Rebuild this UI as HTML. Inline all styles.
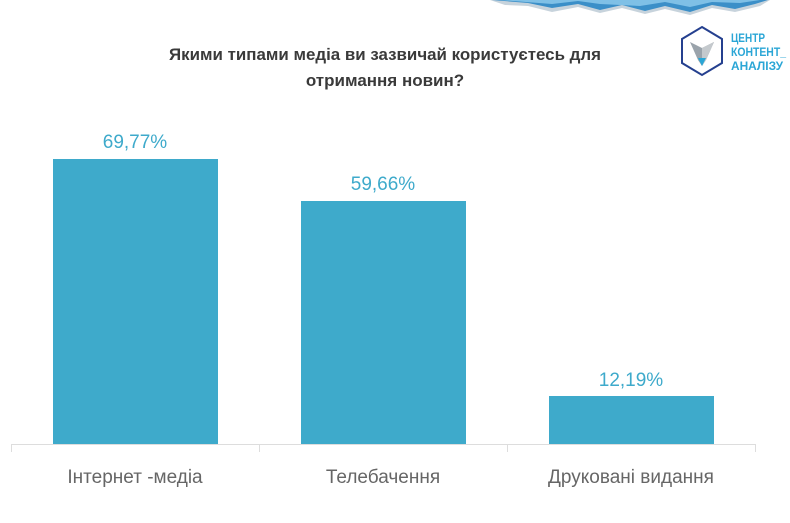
<!DOCTYPE html>
<html><head><meta charset="utf-8"><style>
body{margin:0;width:790px;height:518px;background:#fff;overflow:hidden;font-family:"Liberation Sans","DejaVu Sans",sans-serif;}
</style></head><body>
<svg width="790" height="518" xmlns="http://www.w3.org/2000/svg">
<path d="M490 0 L770 0 L760 6 L735 12 L712 8 L690 15 L665 9 L645 14 L622 8 L600 13 L578 7 L552 12 L528 6 L505 5 Z" fill="#c7d3dc"/>
<path d="M492 0 L768 0 L755 4 L735 9 L712 5 L690 12 L665 6 L645 11 L622 5 L600 10 L578 4 L552 8 L528 3 Z" fill="#3b8fc8"/>
<path d="M500 0 L760 0 L740 3 L712 2 L690 7 L665 2 L640 6 L600 4 L578 1 L552 4 Z" fill="#7fc0e6"/>
<text x="385" y="60" text-anchor="middle" font-size="17" font-weight="bold" fill="#3a3a3a" textLength="432" lengthAdjust="spacingAndGlyphs">Якими типами медіа ви зазвичай користуєтесь для</text>
<text x="385" y="86" text-anchor="middle" font-size="17" font-weight="bold" fill="#3a3a3a">отримання новин?</text>
<polygon points="702,27 722,39 722,63 702,75 682,63 682,39" fill="none" stroke="#25408f" stroke-width="2"/>
<polygon points="690,42 702,48 714,42 706,60 702,66 698,60" fill="#9aa3ab"/>
<polygon points="702,48 714,42 706,60 702,66" fill="#c4c9cd"/>
<polygon points="698,58 706,58 702,66" fill="#2aa6d6"/>
<text x="731" y="42" font-size="12" font-weight="bold" fill="#2aa6d6" textLength="34" lengthAdjust="spacingAndGlyphs">ЦЕНТР</text>
<text x="731" y="56" font-size="12" font-weight="bold" fill="#2aa6d6" textLength="55" lengthAdjust="spacingAndGlyphs">КОНТЕНТ_</text>
<text x="731" y="70" font-size="12" font-weight="bold" fill="#2aa6d6" textLength="52" lengthAdjust="spacingAndGlyphs">АНАЛІЗУ</text>
<rect x="53" y="159" width="165" height="285" fill="#3eaacb"/>
<rect x="301" y="201" width="165" height="243" fill="#3eaacb"/>
<rect x="549" y="396" width="165" height="48" fill="#3eaacb"/>
<g font-size="19" fill="#3eaacb" text-anchor="middle">
<text x="135" y="148">69,77%</text>
<text x="383" y="190">59,66%</text>
<text x="631" y="386">12,19%</text>
</g>
<line x1="11" y1="444.5" x2="756" y2="444.5" stroke="#ddd" stroke-width="1"/>
<g stroke="#ddd"><line x1="11.5" y1="444" x2="11.5" y2="452"/><line x1="259.5" y1="444" x2="259.5" y2="452"/><line x1="507.5" y1="444" x2="507.5" y2="452"/><line x1="755.5" y1="444" x2="755.5" y2="452"/></g>
<g font-size="19" fill="#666" text-anchor="middle">
<text x="135" y="483">Інтернет -медіа</text>
<text x="383" y="483">Телебачення</text>
<text x="631" y="483">Друковані видання</text>
</g>
</svg>
</body></html>
